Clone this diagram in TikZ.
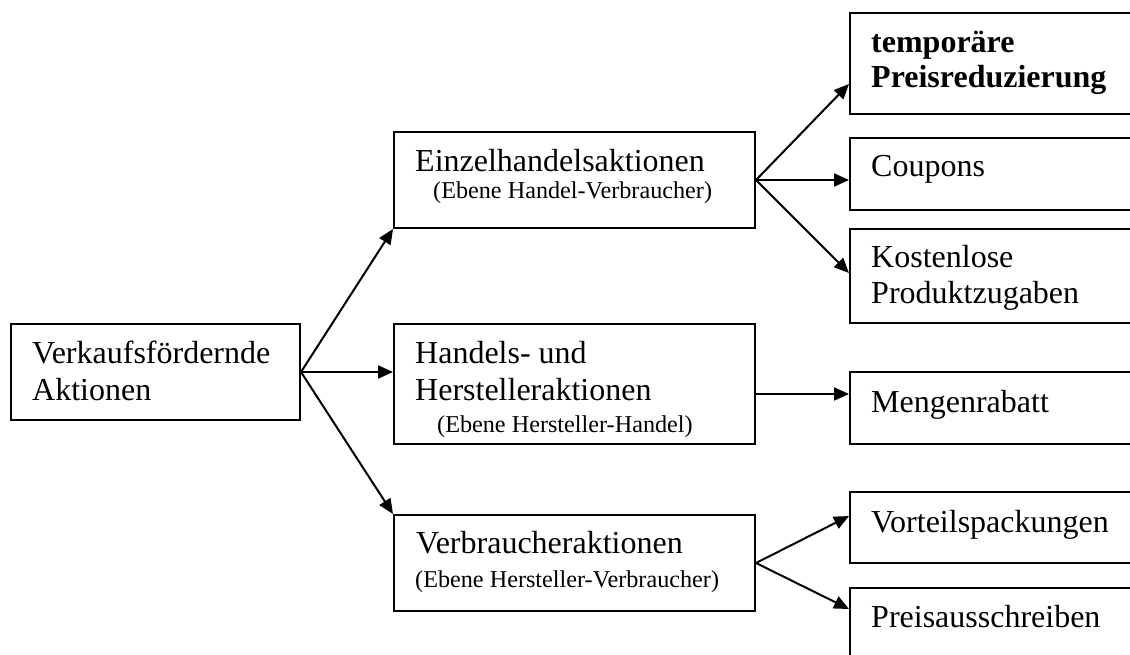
\documentclass[tikz,border=0pt]{standalone}
\usepackage{fontspec}
\setmainfont{Liberation Serif}
\usetikzlibrary{arrows.meta}
\begin{document}
\begin{tikzpicture}[x=1pt,y=-1pt,
  box/.style={draw, line width=2pt, inner sep=0pt, anchor=north west},
  txt/.style={anchor=base west, inner sep=0pt, font=\fontsize{32}{36}\selectfont},
  small/.style={anchor=base west, inner sep=0pt, font=\fontsize{24.2}{28}\selectfont},
  arr/.style={line width=2pt, -{Triangle[length=15pt,width=13pt]}}]
\useasboundingbox (0,0) rectangle (1130,655);
\clip (0,0) rectangle (1130,655);

% boxes
\node[box, minimum width=289pt, minimum height=96pt]  (L)  at (10,323) {};
\node[box, minimum width=361pt, minimum height=96pt]  (E)  at (393,131) {};
\node[box, minimum width=361pt, minimum height=120pt] (H)  at (393,323) {};
\node[box, minimum width=361pt, minimum height=96pt]  (V)  at (393,514) {};
\node[box, minimum width=320pt, minimum height=101pt] (T)  at (849,12) {};
\node[box, minimum width=320pt, minimum height=72pt]  (C)  at (849,137) {};
\node[box, minimum width=320pt, minimum height=94pt]  (K)  at (849,228) {};
\node[box, minimum width=320pt, minimum height=72pt]  (M)  at (849,371) {};
\node[box, minimum width=320pt, minimum height=71pt]  (VP) at (849,491) {};
\node[box, minimum width=320pt, minimum height=100pt] (P)  at (849,587) {};

% texts
\node[txt] (l1) at (32,363) {Verkaufsfördernde};
\node[txt] (l2) at (32,400) {Aktionen};
\node[txt] (e1) at (415,172) {Einzelhandelsaktionen};
\node[small] (e2) at (433,199) {(Ebene Handel-Verbraucher)};
\node[txt] (h1) at (415,363) {Handels- und};
\node[txt] (h2) at (415,400) {Herstelleraktionen};
\node[small] (h3) at (437,432) {(Ebene Hersteller-Handel)};
\node[txt] (v1) at (416,553) {Verbraucheraktionen};
\node[small] (v2) at (415,587) {(Ebene Hersteller-Verbraucher)};
\node[txt, font=\fontsize{32}{36}\selectfont\bfseries] (t1) at (871,53) {temporäre};
\node[txt, font=\fontsize{32}{36}\selectfont\bfseries] (t2) at (871,88) {Preisreduzierung};
\node[txt] (c1) at (871,177) {Coupons};
\node[txt] (k1) at (871,267) {Kostenlose};
\node[txt] (k2) at (871,303) {Produktzugaben};
\node[txt] (m1) at (871,412) {Mengenrabatt};
\node[txt] (vp1) at (871,532) {Vorteilspackungen};
\node[txt] (p1) at (871,627) {Preisausschreiben};

% arrow end points on box edges
\coordinate (Tin) at (849,84);
\coordinate (Kin) at (849,273);
\coordinate (Hout) at (754,394);
\coordinate (VPin) at (849,516);
\coordinate (Pin) at (849,609);

% connectors
\draw[arr] (L.east) -- (E.south west);
\draw[arr] (L.east) -- (H.west |- L.east);
\draw[arr] (L.east) -- (V.north west);
\draw[arr] (E.east) -- (Tin);
\draw[arr] (E.east) -- (C.west |- E.east);
\draw[arr] (E.east) -- (Kin);
\draw[arr] (Hout) -- (M.west |- Hout);
\draw[arr] (V.east) -- (VPin);
\draw[arr] (V.east) -- (Pin);
\end{tikzpicture}
\end{document}
